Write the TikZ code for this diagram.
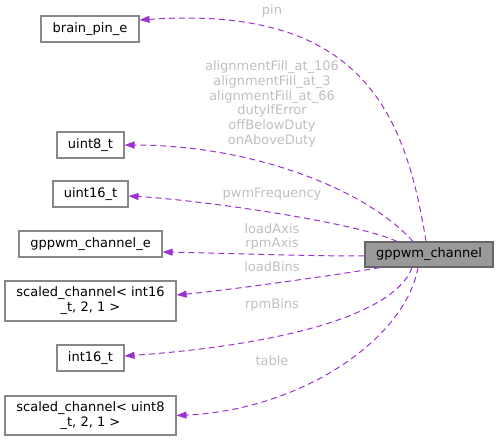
\documentclass[tikz,border=0pt]{standalone}
\usepackage{fontspec}
\setmainfont{DejaVu Sans}
\usetikzlibrary{arrows.meta}
\definecolor{edgec}{HTML}{9A32CD}
\definecolor{labc}{HTML}{BFBFBF}
\definecolor{boxc}{HTML}{888888}
\definecolor{mainfill}{HTML}{999999}
\definecolor{mainbord}{HTML}{666666}
\begin{document}
\begin{tikzpicture}[x=1pt,y=-1pt,
  box/.style={draw=boxc, fill=white, line width=1.1pt, inner sep=0pt, align=center,
    font=\fontsize{13}{15}\selectfont, text=black},
  mainbox/.style={box, draw=mainbord, fill=mainfill},
  usage/.style={draw=edgec, line width=1pt, dash pattern=on 6pt off 4pt,
    -{Triangle[length=10pt,width=7pt,fill=edgec]}},
  lab/.style={text=labc, font=\fontsize{13}{14.8}\selectfont, align=center, inner sep=0pt}
]
\useasboundingbox (0,0) rectangle (499,441);

\node[box, minimum width=98pt, minimum height=26pt] (bp) at (90,29) {brain\_pin\_e};
\node[box, minimum width=67pt, minimum height=26pt] (u8) at (90.5,145) {uint8\_t};
\node[box, minimum width=75pt, minimum height=26pt] (u16) at (90.5,194) {uint16\_t};
\node[box, minimum width=143pt, minimum height=26pt] (gce) at (90.5,244) {gppwm\_channel\_e};
\node[box, minimum width=171pt, minimum height=40pt] (sc16) at (90.5,301) {scaled\_channel< int16\\\_t, 2, 1 >};
\node[box, minimum width=67pt, minimum height=26pt] (i16) at (90.5,358) {int16\_t};
\node[box, minimum width=171pt, minimum height=39pt] (sc8) at (90.5,415.5) {scaled\_channel< uint8\\\_t, 2, 1 >};
\node[mainbox, minimum width=128pt, minimum height=25pt] (main) at (429,254.5) {gppwm\_channel};

\draw[usage] ([xshift=-3pt]main.north) .. controls (405,110) and (360,5) .. ([yshift=9pt]bp.east);
\draw[usage] ([xshift=-16pt]main.north) .. controls (365,188) and (250,145) .. (u8.east);
\draw[usage] ([xshift=-32pt]main.north) .. controls (355,222) and (200,200) .. ([yshift=-2pt]u16.east);
\draw[usage] ([yshift=-1.5pt]main.west) .. controls (300,256) and (220,253) .. ([yshift=-8pt]gce.east);
\draw[usage] ([xshift=-49pt]main.south) .. controls (350,273) and (230,290) .. ([yshift=6pt]sc16.east);
\draw[usage] ([xshift=-17pt]main.south) .. controls (395,315) and (280,345) .. ([yshift=2pt]i16.east);
\draw[usage] ([xshift=-11pt]main.south) .. controls (405,340) and (300,410) .. (sc8.east);

\node[lab] (lpin) at (272,11) {pin};
\node[lab] (lu8) at (272,104) {alignmentFill\_at\_106\\alignmentFill\_at\_3\\alignmentFill\_at\_66\\dutyIfError\\offBelowDuty\\onAboveDuty};
\node[lab] (lu16) at (272,194) {pwmFrequency};
\node[lab] (lgce) at (272,237) {loadAxis\\rpmAxis};
\node[lab] (lsc16) at (272,267) {loadBins};
\node[lab] (li16) at (272,305) {rpmBins};
\node[lab] (lsc8) at (272,361) {table};
\end{tikzpicture}
\end{document}
